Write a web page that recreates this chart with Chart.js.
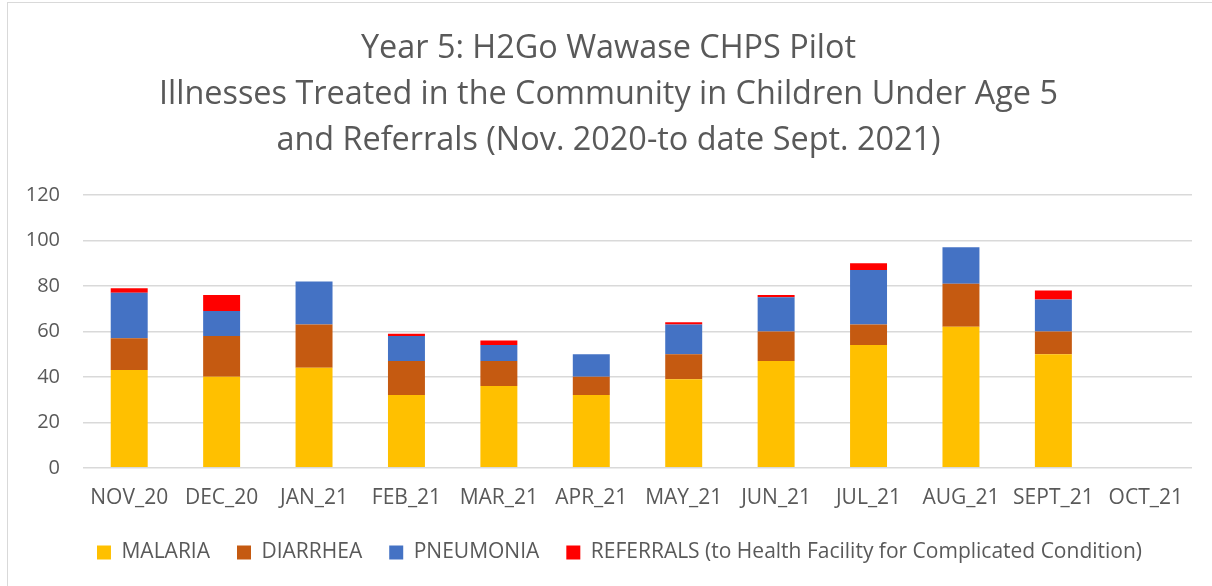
<!DOCTYPE html>
<html>
<head>
<meta charset="utf-8">
<script src="https://cdn.jsdelivr.net/npm/chart.js@4"></script>
<style>
  html, body { margin: 0; padding: 0; background: #fff; }
  #wrap { width: 1212px; height: 586px; position: relative; }
</style>
</head>
<body>
<div id="wrap"><canvas id="myChart" width="1212" height="586"></canvas></div>
<script>
// Data
const months = ["NOV_20", "DEC_20", "JAN_21", "FEB_21", "MAR_21", "APR_21", "MAY_21", "JUN_21", "JUL_21", "AUG_21", "SEPT_21", "OCT_21"];
const malaria = [43, 40, 44, 32, 36, 32, 39, 47, 54, 62, 50, null];
const diarrhea = [14, 18, 19, 15, 11, 8, 11, 13, 9, 19, 10, null];
const pneumonia = [20, 11, 19, 11, 7, 10, 13, 15, 24, 16, 14, null];
const referrals = [2, 7, 0, 1, 2, 0, 1, 1, 3, 0, 4, null];

const titleLines = [
    "Year 5: H2Go Wawase CHPS Pilot",
    "Illnesses Treated in the Community in Children Under Age 5",
    "and Referrals (Nov. 2020-to date Sept. 2021)"
];

const textColor = "#595959";
const gridColor = "#d9d9d9";
const fontName = "'Open Sans', sans-serif";

// frame around the chart, like the Excel chart area border
const framePlugin = {
    id: "frame",
    beforeDraw(chart) {
        const ctx = chart.ctx;
        ctx.save();
        ctx.fillStyle = "#fff";
        ctx.fillRect(0, 0, chart.width, chart.height);
        ctx.strokeStyle = gridColor;
        ctx.lineWidth = 1;
        ctx.strokeRect(7.5, 2.5, chart.width, chart.height);
        ctx.restore();
    }
};

// nudge the legend a bit to the right, it sits off-centre in the original
const legendShift = {
    id: "legendShift",
    afterLayout(chart) {
        chart.legend.left += 11;
        chart.legend.right += 11;
    }
};

function makeDataset(label, data, color) {
    return {
        label: label,
        data: data,
        backgroundColor: color,
        borderWidth: 0,
        barPercentage: 0.4,
        categoryPercentage: 1.0
    };
}

new Chart("myChart", {
    type: "bar",
    data: {
        labels: months,
        datasets: [
            makeDataset("MALARIA", malaria, "#FFC000"),
            makeDataset("DIARRHEA", diarrhea, "#C55A11"),
            makeDataset("PNEUMONIA", pneumonia, "#4472C4"),
            makeDataset("REFERRALS (to Health Facility for Complicated Condition)", referrals, "#FF0000")
        ]
    },
    plugins: [framePlugin, legendShift],
    options: {
        responsive: false,
        animation: false,
        layout: {
            padding: { left: 25, right: 20, top: 10, bottom: 13 }
        },
        scales: {
            x: {
                stacked: true,
                afterFit(scale) {
                    scale.height -= 6;
                },
                grid: { display: false },
                border: { display: false },
                ticks: {
                    color: textColor,
                    font: { family: fontName, size: 21 },
                    padding: 10,
                    maxRotation: 0,
                    autoSkip: false
                }
            },
            y: {
                stacked: true,
                min: 0,
                max: 120,
                afterFit(scale) {
                    scale.width = 58;
                },
                ticks: {
                    stepSize: 20,
                    color: textColor,
                    font: { family: fontName, size: 20 },
                    padding: 23
                },
                grid: {
                    color: gridColor,
                    lineWidth: 1.5,
                    drawTicks: false
                },
                border: { display: false }
            }
        },
        plugins: {
            title: {
                display: true,
                text: titleLines,
                color: textColor,
                font: { family: fontName, size: 32.4, weight: "normal", lineHeight: 1.42 },
                padding: { top: 16, bottom: 31 }
            },
            legend: {
                display: true,
                position: "bottom",
                labels: {
                    color: textColor,
                    font: { family: fontName, size: 21 },
                    boxWidth: 14,
                    boxHeight: 14,
                    padding: 27
                }
            },
            tooltip: { enabled: false }
        }
    }
});
</script>
</body>
</html>
